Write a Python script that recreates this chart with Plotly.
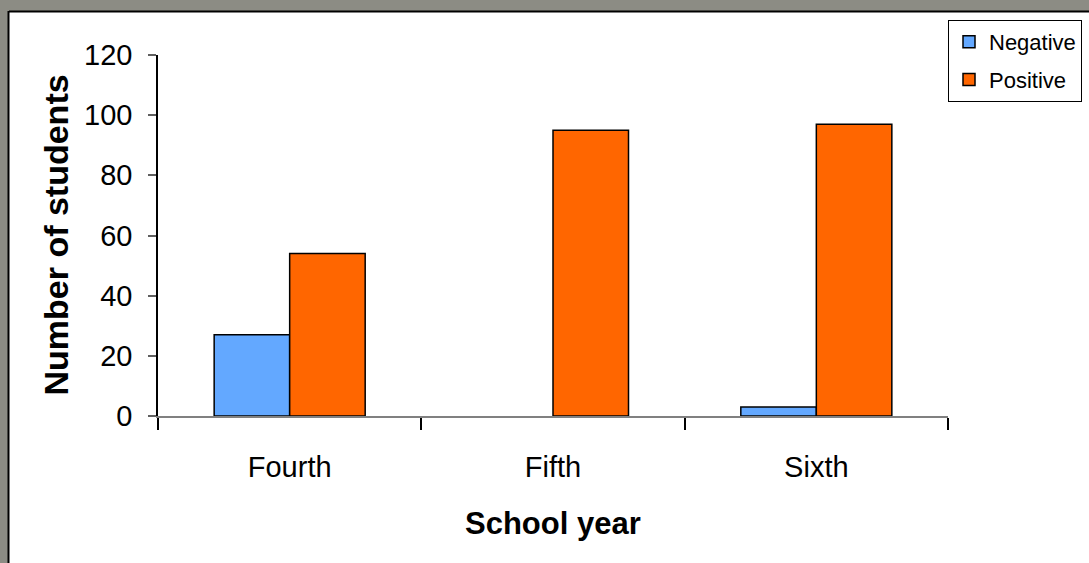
import plotly.graph_objects as go

categories = ["Fourth", "Fifth", "Sixth"]
negative = [27, 0, 3]
positive = [54, 95, 97]
y_ticks = [0, 20, 40, 60, 80, 100, 120]

W, H = 1089, 563
L, R, T, B = 158, 141, 55, 147
pw, ph = W - L - R, H - T - B

def px_x(x):
    return (x - L) / pw

def px_y(y):
    return (H - B - y) / ph

FONT = "Liberation Sans, Arial, sans-serif"

neg_line = [0 if v == 0 else 1.5 for v in negative]

fig = go.Figure()
fig.add_trace(go.Bar(name="Negative", x=categories, y=negative, legendgroup="neg",
                     marker=dict(color="#63A8FF", line=dict(color="black", width=neg_line))))
fig.add_trace(go.Bar(name="Positive", x=categories, y=positive, legendgroup="pos",
                     marker=dict(color="#FF6600", line=dict(color="black", width=1.5))))

fig.update_layout(
    width=W, height=H,
    margin=dict(l=L, r=R, t=T, b=B, pad=0, autoexpand=False),
    paper_bgcolor="#8C8C84",
    plot_bgcolor="rgba(0,0,0,0)",
    barmode="group", bargap=0.4265, bargroupgap=0,
    font=dict(family=FONT, color="black"),
    showlegend=True,
    legend=dict(x=px_x(948), y=px_y(20), xanchor="left", yanchor="top",
                bgcolor="white", bordercolor="black", borderwidth=1,
                font=dict(size=22, family=FONT), tracegroupgap=6,
                itemwidth=30),
    shapes=[
        dict(type="rect", xref="paper", yref="paper",
             x0=px_x(9), x1=px_x(1095), y0=px_y(570), y1=px_y(11),
             fillcolor="white", line=dict(width=0), layer="below"),
        dict(type="line", xref="paper", yref="paper",
             x0=px_x(9), x1=px_x(1095), y0=px_y(11.5), y1=px_y(11.5),
             line=dict(color="black", width=2), layer="below"),
        dict(type="line", xref="paper", yref="paper",
             x0=px_x(8.5), x1=px_x(8.5), y0=px_y(570), y1=px_y(11),
             line=dict(color="black", width=2), layer="below"),
    ],
    annotations=[
        dict(text="<b>Number of students</b>", xref="paper", yref="paper",
             x=px_x(55), y=0.5, textangle=-90, showarrow=False,
             font=dict(size=34, family=FONT), xanchor="center", yanchor="middle"),
        dict(text="<b>School year</b>", xref="paper", yref="paper",
             x=0.5, y=px_y(523), showarrow=False,
             font=dict(size=31, family=FONT), xanchor="center", yanchor="middle"),
    ],
)

fig.update_xaxes(
    type="category", tickson="boundaries",
    showline=True, linecolor="#808080", linewidth=1.5,
    ticks="outside", ticklen=12, tickcolor="black", tickwidth=1.5,
    showgrid=False, zeroline=False,
    tickfont=dict(size=29, family=FONT), ticklabelstandoff=24,
)
fig.update_yaxes(
    range=[0, 120], tickvals=y_ticks,
    showline=True, linecolor="black", linewidth=1.5,
    ticks="outside", ticklen=8, tickcolor="#606060", tickwidth=1.5,
    showgrid=False, zeroline=False,
    tickfont=dict(size=29, family=FONT), ticklabelstandoff=10,
)

fig.write_html(
    "out.html",
    config={"displayModeBar": False},
    post_script="document.body.style.margin='0';document.body.style.overflow='hidden';",
)
